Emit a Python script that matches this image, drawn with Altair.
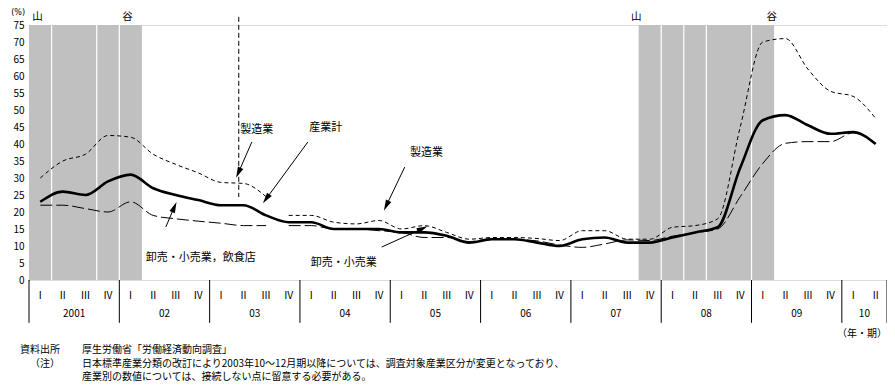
import math
import altair as alt
import pandas as pd

# ---------------- data ----------------
quarters = ["Ⅰ", "Ⅱ", "Ⅲ", "Ⅳ"]
years = ["2001", "02", "03", "04", "05", "06", "07", "08", "09", "10"]
n_q = 38  # 2001 I .. 2010 II

total = [23, 26, 25, 29, 31, 27, 25, 23.5, 22, 22, 19, 17, 17, 15, 15, 15, 14, 14,
         13, 11, 12, 12, 11, 10, 12, 12.5, 11, 11, 12.5, 14, 15.5, 33, 47, 48.5,
         45.5, 43, 43.5, 40]
mfg_old = [30, 35, 37, 42.5, 42, 37, 34, 31.5, 28.7, 28.4, 24.5]          # q 0..10
mfg_new = [19, 19, 17, 16.5, 17.5, 15, 16, 14, 12, 12.5, 12.5, 12.2, 11.6,
           14.5, 14.5, 12, 12, 15.5, 16, 18, 45, 70, 71, 62, 55.5, 54, 47.5]  # q 11..37
ws_old = [22, 22, 21, 20, 23, 19, 18, 17.3, 16.7, 16, 16]                  # q 0..10
ws_new = [16, 16, 15, 15, 14.5, 14, 12.5, 12.5, 11.3, 12.2, 12, 11.5, 10.3,
          9.6, 10.6, 11.8, 11.6, 12.9, 13.9, 15, 24.5, 34.3, 40.2, 40.7,
          40.7, 43.3, 40.2]                                                  # q 11..37

# recession shading (quarter index boundaries) and white separators
bands_start = [0, 27]
bands_end = [5, 33]
band_seps = [1, 3, 4, 28, 29, 30, 32]
peak_trough_text = ["山", "谷", "山", "谷"]
peak_trough_x = [0.38, 4.36, 26.9, 32.9]

# annotations (data units)
label_text = ["製造業", "産業計", "製造業", "卸売・小売業，飲食店", "卸売・小売業"]
label_x = [10.09, 13.14, 17.61, 7.61, 13.94]
label_y = [44.1, 44.7, 37.4, 6.5, 5.0]
arrow_x1 = [9.87, 12.35, 16.64, 6.06, 15.62]
arrow_y1 = [40.6, 40.6, 33.2, 15.6, 9.7]
arrow_x2 = [9.29, 10.53, 15.84, 6.42, 17.39]
arrow_y2 = [31.8, 24.1, 22.1, 21.2, 15.0]
break_x = 9.29
break_y = [77.4, 24.4]

W, H = 858, 255
XMAX, YMAX = 38, 75
FONT = "Noto Sans CJK JP"

# ---------------- frames ----------------
def series_df(vals, start, name):
    return pd.DataFrame({"q": [start + i + 0.5 for i in range(len(vals))],
                         "v": vals, "s": name})

df_total = series_df(total, 0, "産業計")
df_mfg = pd.concat([series_df(mfg_old, 0, "mfg_old"), series_df(mfg_new, 11, "mfg_new")])
df_ws = pd.concat([series_df(ws_old, 0, "ws_old"), series_df(ws_new, 11, "ws_new")])

xs = alt.Scale(domain=[0, XMAX], nice=False, zero=False)
ys = alt.Scale(domain=[0, YMAX], nice=False, zero=False)
yaxis = alt.Axis(values=list(range(0, 76, 5)), tickSize=0, labelPadding=5, domainColor="black",
                 labelFont=FONT, labelFontSize=10, labelColor="black", grid=False, title=None,
                 labelOverlap=False, labelFlush=False)
X = lambda f: alt.X(f, type="quantitative", scale=xs, axis=None)
Y = lambda f: alt.Y(f, type="quantitative", scale=ys, axis=yaxis)

bands = alt.Chart(pd.DataFrame({"a": bands_start, "b": bands_end, "y0": 0, "y1": YMAX})).mark_rect(
    color="#c0c0c0").encode(x=X("a"), x2="b", y=Y("y0"), y2="y1")

seps = alt.Chart(pd.DataFrame({"x": band_seps, "y0": 0, "y1": YMAX})).mark_rule(
    color="white", strokeWidth=1.2).encode(x=X("x"), y=Y("y0"), y2="y1")

line_total = alt.Chart(df_total).mark_line(color="black", strokeWidth=2.6, interpolate="monotone").encode(
    x=X("q"), y=Y("v"))
line_mfg = alt.Chart(df_mfg).mark_line(color="black", strokeWidth=1, strokeDash=[4, 3],
                                       interpolate="monotone").encode(x=X("q"), y=Y("v"), detail="s:N")
line_ws = alt.Chart(df_ws).mark_line(color="black", strokeWidth=1, strokeDash=[12, 4],
                                     interpolate="monotone").encode(x=X("q"), y=Y("v"), detail="s:N")

brk = alt.Chart(pd.DataFrame({"x": [break_x], "y0": [break_y[0]], "y1": [break_y[1]]})).mark_rule(
    color="black", strokeWidth=1, strokeDash=[5, 3]).encode(x=X("x"), y=Y("y0"), y2="y1")

# arrows
pxx, pxy = W / XMAX, H / YMAX
angles = []
for x1, y1, x2, y2 in zip(arrow_x1, arrow_y1, arrow_x2, arrow_y2):
    dx = (x2 - x1) * pxx
    dy = -(y2 - y1) * pxy
    angles.append(math.degrees(math.atan2(dx, -dy)) % 360)
df_arrow = pd.DataFrame({"x1": arrow_x1, "y1": arrow_y1, "x2": arrow_x2, "y2": arrow_y2, "ang": angles})
arrow_lines = alt.Chart(df_arrow).mark_rule(color="black", strokeWidth=1).encode(
    x=X("x1"), y=Y("y1"), x2="x2", y2="y2")
arrow_heads = alt.Chart(df_arrow).mark_point(
    shape="M0,-1L0.45,0.7L-0.45,0.7Z", filled=True, color="black", opacity=1, size=170).encode(
    x=X("x2"), y=Y("y2"), angle=alt.Angle("ang:Q", scale=None))

labels = alt.Chart(pd.DataFrame({"t": label_text, "x": label_x, "y": label_y})).mark_text(
    font=FONT, fontSize=11, color="black").encode(x=X("x"), y=Y("y"), text="t:N")

pt = alt.Chart(pd.DataFrame({"t": peak_trough_text, "x": peak_trough_x, "y": 77.5})).mark_text(
    font=FONT, fontSize=10.5, color="black").encode(x=X("x"), y=Y("y"), text="t:N")

pct = alt.Chart(pd.DataFrame({"t": ["(%)"]})).mark_text(
    font="DejaVu Sans", fontSize=8, color="black", align="right").encode(
    x=alt.value(-4), y=alt.value(-12.5), text="t:N")

# x "table"
q_df = pd.DataFrame({"x": [i + 0.5 for i in range(n_q)], "t": [quarters[i % 4] for i in range(n_q)],
                     "y": -4.7})
q_text = alt.Chart(q_df).mark_text(font=FONT, fontSize=10, color="black").encode(
    x=X("x"), y=Y("y"), text="t:N")
yr_x = [4 * k + 2 for k in range(9)] + [37]
y_df = pd.DataFrame({"x": yr_x, "t": years, "y": -10})
y_text = alt.Chart(y_df).mark_text(font=FONT, fontSize=10, color="black").encode(
    x=X("x"), y=Y("y"), text="t:N")
sep_df = pd.DataFrame({"x": [4 * k for k in range(10)] + [XMAX], "y0": 0, "y1": -12.6})
sep_lines = alt.Chart(sep_df).mark_rule(color="black", strokeWidth=1).encode(
    x=X("x"), y=Y("y0"), y2="y1")

unit = alt.Chart(pd.DataFrame({"t": ["（年・期）"]})).mark_text(
    font=FONT, fontSize=10, color="black", align="right").encode(
    x=alt.value(W), y=alt.value(309), text="t:N")

notes_text = ["資料出所", "厚生労働省「労働経済動向調査」", "（注）",
              "日本標準産業分類の改訂により2003年10～12月期以降については、調査対象産業区分が変更となっており、",
              "産業別の数値については、接続しない点に留意する必要がある。"]
notes_x = [-9, 53, 1, 53, 53]
notes_y = [325, 325, 338.5, 338.5, 352]
notes = alt.Chart(pd.DataFrame({"t": notes_text, "x": notes_x, "y": notes_y})).mark_text(
    font=FONT, fontSize=10, color="black", align="left").encode(
    x=alt.X("x:Q", scale=None), y=alt.Y("y:Q", scale=None), text="t:N")

chart = alt.layer(bands, seps, line_ws, line_mfg, line_total, brk, arrow_lines, arrow_heads,
                  labels, pt, pct, q_text, y_text, sep_lines, unit, notes).properties(
    width=W, height=H,
    autosize=alt.AutoSizeParams(type="none"),
    padding={"left": 21, "top": 17, "right": 0, "bottom": 104},
).configure_view(stroke="black", strokeWidth=1).configure(background="white")

chart.save("out.html", embed_options={"renderer": "svg", "actions": False})
